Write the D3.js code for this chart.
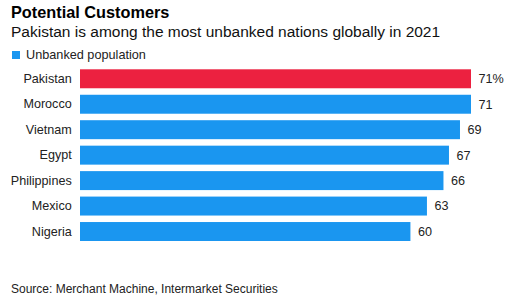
<!DOCTYPE html>
<html><head><meta charset="utf-8">
<script src="https://cdn.jsdelivr.net/npm/d3@7"></script>
<style>body{margin:0;background:#fff}svg{display:block}text{font-family:"Liberation Sans",Arial,sans-serif}</style>
</head><body>
<svg id="c" width="512" height="300"></svg>
<script>
const countries = ["Pakistan","Morocco","Vietnam","Egypt","Philippines","Mexico","Nigeria"];
const unbanked = [71,71,69,67,66,63,60];
const valueLabels = ["71%","71","69","67","66","63","60"];
const highlight = "Pakistan";

const svg = d3.select("#c");
const x = d3.scaleLinear().domain([0,71]).range([80,471]);
const y = d3.scaleBand().domain(countries).range([69.3,241]).paddingInner(0.255).paddingOuter(0);

svg.append("text").attr("x",11).attr("y",17.5).attr("font-size",16.3).attr("font-weight","bold").attr("fill","#000").text("Potential Customers");
svg.append("text").attr("x",11).attr("y",36.8).attr("font-size",15.5).attr("fill","#111").text("Pakistan is among the most unbanked nations globally in 2021");
svg.append("rect").attr("x",12).attr("y",51).attr("width",8).attr("height",8).attr("fill","#1a96f0");
svg.append("text").attr("x",26).attr("y",59).attr("font-size",12.7).attr("fill","#222").text("Unbanked population");

const data = countries.map((c,i)=>({c,v:unbanked[i],l:valueLabels[i]}));
svg.selectAll("rect.bar").data(data).join("rect").attr("class","bar")
  .attr("x",x(0)).attr("y",d=>y(d.c)).attr("width",d=>x(d.v)-x(0)).attr("height",y.bandwidth())
  .attr("fill",d=>d.c===highlight?"#ec2140":"#1a96f0");

const ax = d3.axisLeft(y).tickSize(0).tickPadding(8.3);
const g = svg.append("g").attr("transform",`translate(${x(0)},0)`).call(ax);
g.select(".domain").remove();
g.selectAll("text").attr("font-size",12.6).attr("fill","#222").style("font-family","'Liberation Sans',Arial,sans-serif");

svg.selectAll("text.val").data(data).join("text").attr("class","val")
  .attr("x",d=>x(d.v)+7.5).attr("y",d=>y(d.c)+y.bandwidth()/2).attr("dy","0.35em")
  .attr("font-size",12.6).attr("fill","#222").text(d=>d.l);

svg.append("text").attr("x",11).attr("y",293).attr("font-size",12).attr("fill","#222").text("Source: Merchant Machine, Intermarket Securities");
</script>
</body></html>
